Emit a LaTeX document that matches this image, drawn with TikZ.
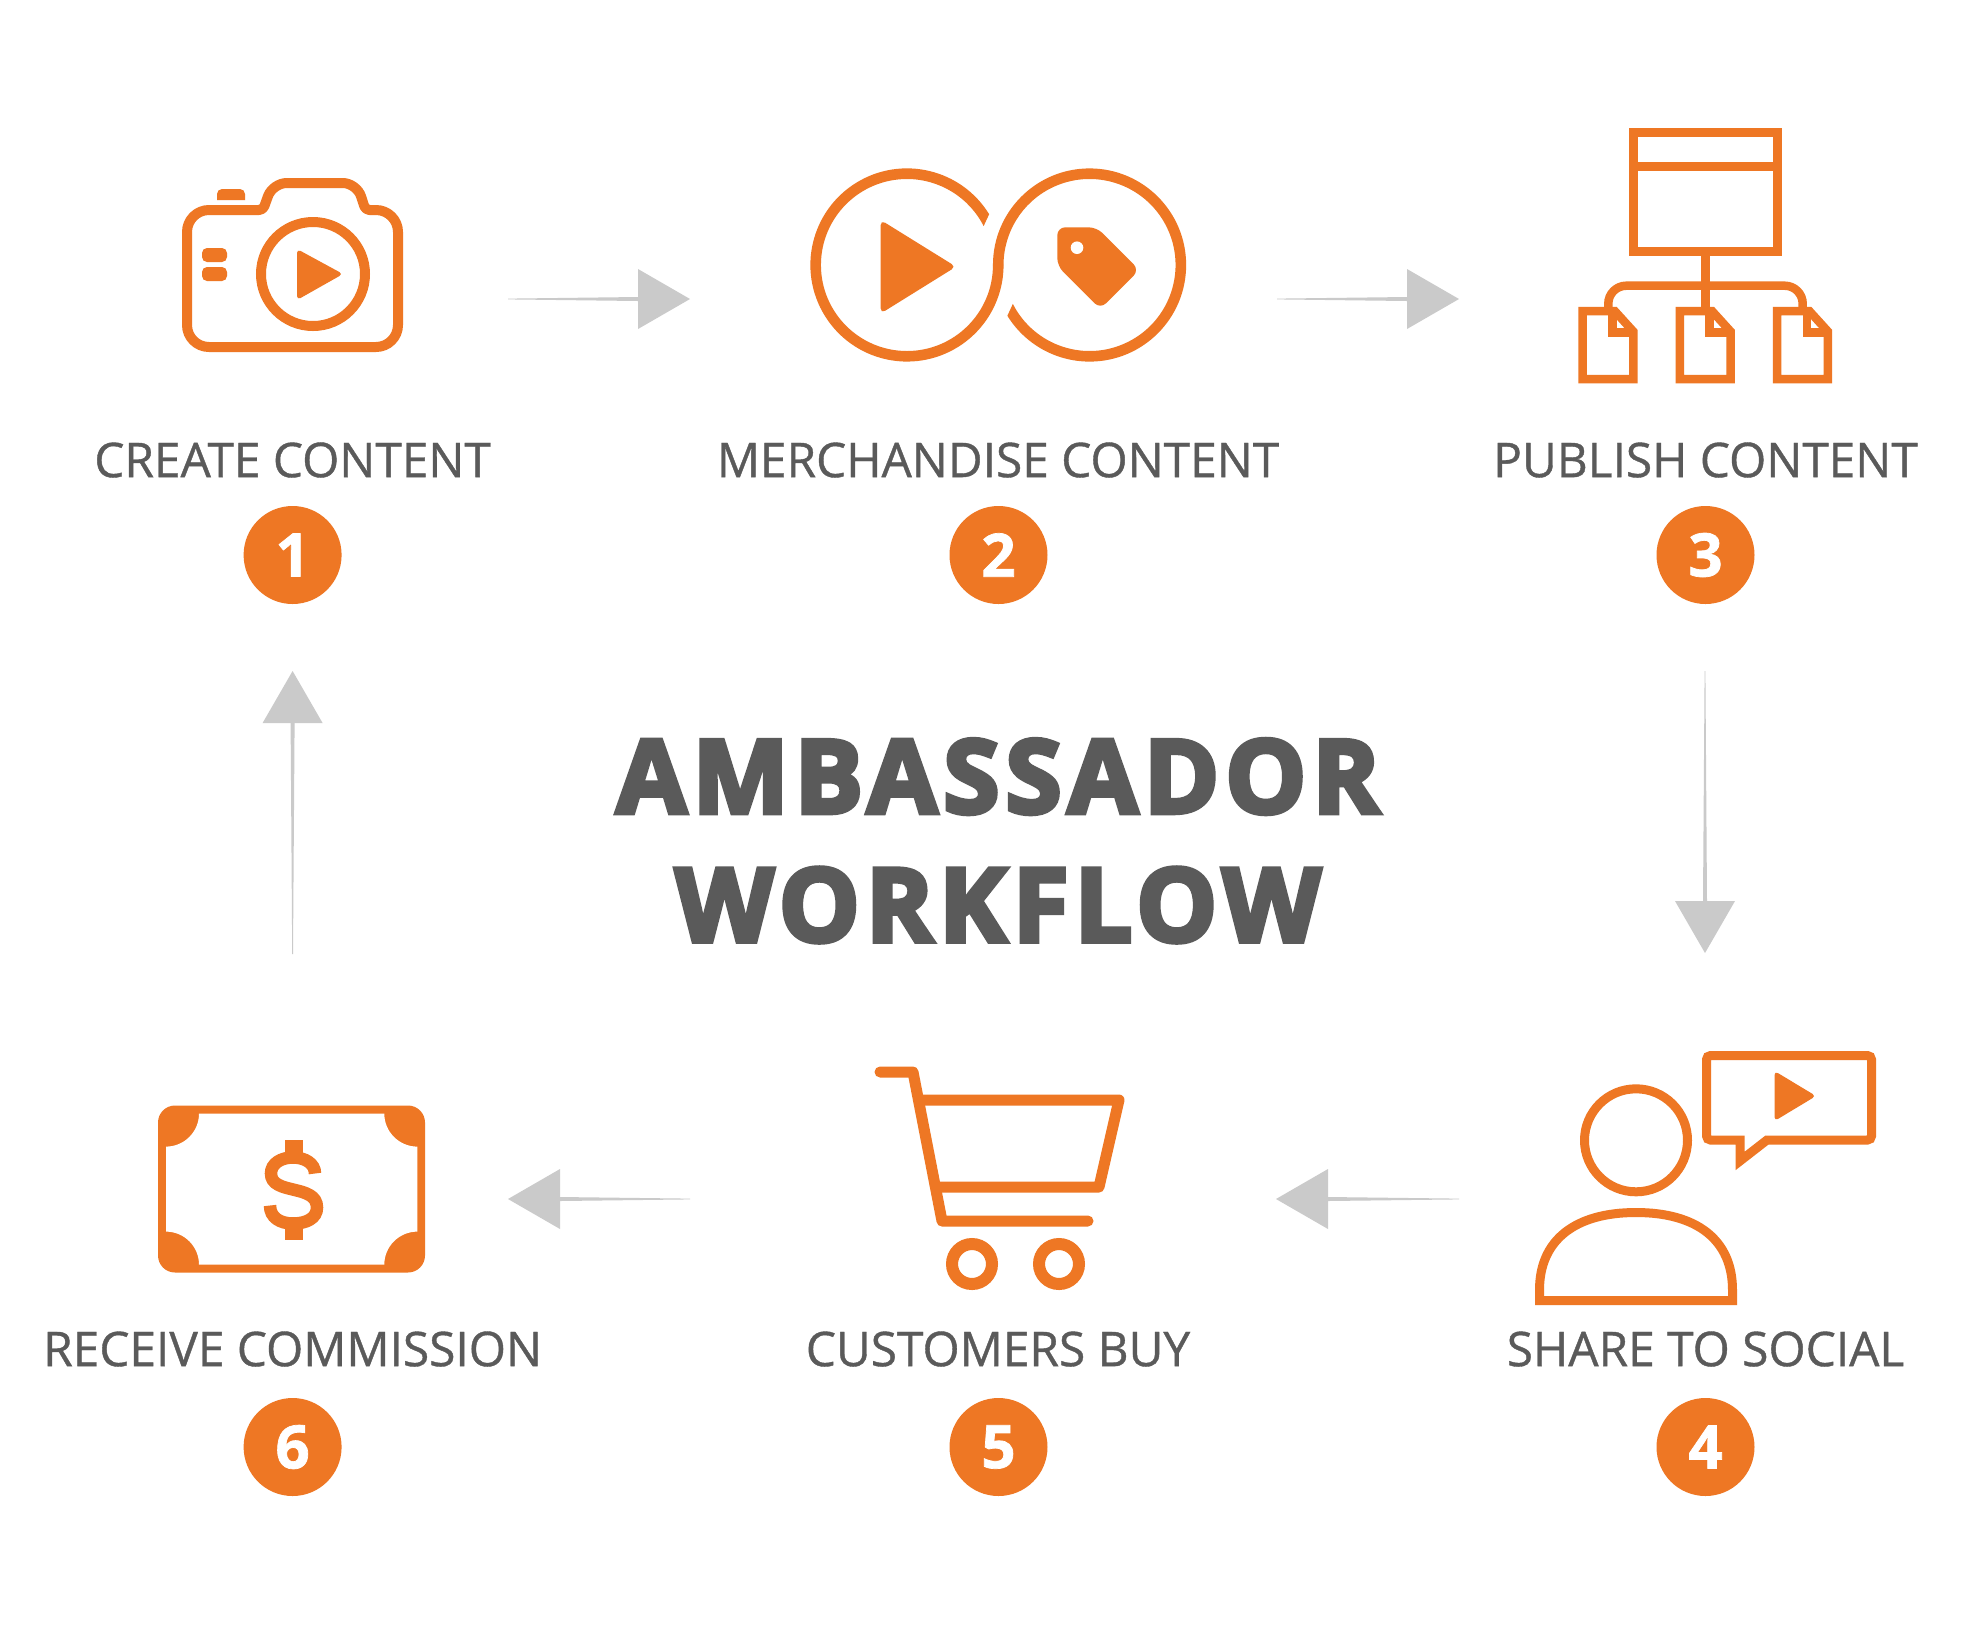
\documentclass[tikz,border=0pt]{standalone}
\usepackage{fontspec}
\setmainfont{Open Sans}
\newfontfamily\titlefont[BoldFeatures={FakeBold=4.5,LetterSpace=5.8}]{Open Sans}
\newfontfamily\labelfont[FakeBold=0.8]{Open Sans}
\newfontfamily\numfont[BoldFeatures={FakeBold=1.2}]{Open Sans}
\usetikzlibrary{calc}
\definecolor{brand}{HTML}{EE7724}
\definecolor{txt}{HTML}{5A5A5A}
\definecolor{arrowgrey}{HTML}{CACACA}
\tikzset{
  ico/.style={draw=brand,line width=#1*0.5pt,fill=none},
  ico/.default=10,
  solid/.style={fill=brand,draw=none},
  steplabel/.style={text=txt,font=\labelfont\fontsize{23.9pt}{28pt}\selectfont,anchor=center,inner sep=0pt},
  badge/.style={circle,fill=brand,text=white,minimum size=49pt,inner sep=0pt,font=\numfont\bfseries\fontsize{30pt}{36pt}\selectfont},
  headline/.style={text=txt,font=\titlefont\bfseries\fontsize{51pt}{60pt}\selectfont,anchor=center,inner sep=0pt},
  shaft/.style={fill=arrowgrey,draw=none},
}
% horizontal arrow: tail, base of head, tip
\newcommand{\harrow}[3]{%
  \fill[shaft] ($(#1)+(0,-0.4)$) -- ($(#2)+(0,-2)$) -- ($(#2)+(0,2)$) -- ($(#1)+(0,0.4)$) -- cycle;
  \fill[shaft] ($(#2)+(0,-30)$) -- (#3) -- ($(#2)+(0,30)$) -- cycle;}
\newcommand{\varrow}[3]{%
  \fill[shaft] ($(#1)+(-0.4,0)$) -- ($(#2)+(-2,0)$) -- ($(#2)+(2,0)$) -- ($(#1)+(0.4,0)$) -- cycle;
  \fill[shaft] ($(#2)+(-30,0)$) -- (#3) -- ($(#2)+(30,0)$) -- cycle;}
\begin{document}
\begin{tikzpicture}[x=0.5pt,y=-0.5pt]
\useasboundingbox (0,0) rectangle (1961,1624);
\fill[white] (0,0) rectangle (1961,1624);

% --- camera
\draw[ico=10,line join=round,rounded corners=11pt] (230,210) -- (187,210) -- (187,347) -- (398,347) -- (398,210)
  [rounded corners=2pt] -- (365.5,210) [rounded corners=7pt] -- (356.7,183) -- (272.7,183) [rounded corners=2pt] -- (263,210) -- cycle;
\draw[ico=10] (313,274) circle (52);
\fill[solid,rounded corners=2pt] (297,249) -- (343,274) -- (297,300) -- cycle;
\fill[solid,rounded corners=2.5pt] (202,248) rectangle (227,262);
\fill[solid,rounded corners=2.5pt] (202,267) rectangle (227,281);
\fill[solid] (217,200) [rounded corners=2.5pt] -- (217,189) -- (245,189) [sharp corners] -- (245,200) -- cycle;

% --- infinity
\fill[solid] (989.15,214.2) arc[start angle=-31.7,end angle=-360,radius=96.6]
  -- (992.95,265) arc[start angle=-360,end angle=-26.9,radius=86] -- cycle;
\fill[solid] (992.95,265) arc[start angle=180,end angle=508.3,radius=96.6]
  -- (1012.85,303.9) arc[start angle=513.1,end angle=180,radius=86] -- cycle;
\fill[solid,rounded corners=2.5pt] (880.7,220) -- (956,266.7) -- (880.7,313.5) -- cycle;
\fill[solid,rounded corners=4pt] (1057.3,227.3) -- (1096.7,227.3) -- (1139.3,270) -- (1100.3,309) -- (1057.3,266) -- cycle;
\fill[white] (1077,247.7) circle (6.3);

% --- site map
\draw[ico=8.5] (1633.5,132.5) rectangle (1777.5,251.5);
\draw[ico=8.5] (1633.5,166.7) -- (1777.5,166.7);
\draw[ico=8.5] (1705.3,251.5) -- (1705.3,311);
\draw[ico=8.5,rounded corners=9pt] (1608.3,311) -- (1608.3,285.7) -- (1802.7,285.7) -- (1802.7,311);
\foreach \dx in {0,97.3,194.6}{
  \begin{scope}[shift={(\dx,0)}]
  \draw[ico=8.5,miter limit=8] (1582.5,379) -- (1582.5,311) -- (1614.7,311) -- (1633.3,331.5) -- (1633.3,379) -- cycle;
  \draw[ico=8.5,miter limit=8] (1612.3,311) -- (1612.3,332.7) -- (1633.3,332.7);
  \end{scope}
}

% --- person with speech bubble
\draw[ico=9] (1636,1140.3) circle (51.5);
\draw[ico=9] (1539.5,1300.5) -- (1539.5,1290) .. controls (1539.5,1240) and (1575,1212.5) .. (1636,1212.5)
  .. controls (1697,1212.5) and (1732.5,1240) .. (1732.5,1290) -- (1732.5,1300.5) -- cycle;
\draw[ico=9,miter limit=8,rounded corners=2pt] (1706.5,1098) -- (1706.5,1055.5) -- (1871.5,1055.5) -- (1871.5,1140)
  [sharp corners] -- (1767,1140) -- (1740,1161) -- (1740,1140) [rounded corners=2pt] -- (1706.5,1140) -- cycle;
\fill[solid,rounded corners=2pt] (1774.5,1071) -- (1816,1096) -- (1774.5,1121) -- cycle;

% --- cart
\draw[ico=11,line cap=round,line join=round] (880,1072) -- (913,1072) -- (942,1221) -- (1088,1221);
\draw[ico=11,line join=round] (922,1100) -- (1119,1100) -- (1099,1187) -- (937,1187);
\draw[ico=12] (972,1264) circle (20);
\draw[ico=12] (1059,1264) circle (20);

% --- banknote
\fill[solid,rounded corners=8.5pt] (158,1105.5) rectangle (425,1272.5);
\fill[white] (199,1113.6) -- (384.3,1113.6) arc[start angle=180,end angle=90,radius=33]
  -- (417.3,1231.6) arc[start angle=270,end angle=180,radius=33]
  -- (199,1264.6) arc[start angle=0,end angle=-90,radius=33]
  -- (166,1146.6) arc[start angle=90,end angle=0,radius=33] -- cycle;
\fill[solid] (284.7,1139.5) rectangle (302.7,1153);
\fill[solid] (284.7,1226) rectangle (302.7,1239.5);
\draw[ico=12.5] (315,1173.5) .. controls (315,1163.5) and (305,1157.5) .. (293,1157.5)
  .. controls (281,1157.5) and (271,1163.5) .. (271,1173.5)
  .. controls (271,1195.5) and (317,1183.5) .. (317,1207.5)
  .. controls (317,1218.5) and (306,1223.5) .. (293,1223.5)
  .. controls (280,1223.5) and (270,1217.5) .. (270,1205.5);

% --- labels
\node[steplabel] (l1) at (292.6,460) {CREATE CONTENT};
\node[steplabel] (l2) at (998,460) {MERCHANDISE CONTENT};
\node[steplabel] (l3) at (1705.5,460) {PUBLISH CONTENT};
\node[steplabel] (l4) at (1705.5,1349) {SHARE TO SOCIAL};
\node[steplabel] (l5) at (998,1349) {CUSTOMERS BUY};
\node[steplabel] (l6) at (292.6,1349) {RECEIVE COMMISSION};

% --- badges
\node[badge] (n1) at (292.6,555) {1};
\node[badge] (n2) at (998.5,555) {2};
\node[badge] (n3) at (1705.5,555) {3};
\node[badge] (n4) at (1705.5,1447) {4};
\node[badge] (n5) at (998.5,1447) {5};
\node[badge] (n6) at (292.6,1447) {6};

% --- title
\node[headline] (t1) at (998,776.5) {AMBASSADOR};
\node[headline] (t2) at (998,905) {WORKFLOW};

% --- arrows
\coordinate (a1s) at (508,299); \coordinate (a1b) at (638,299); \coordinate (a1e) at (690,299);
\coordinate (a2s) at (1277,299); \coordinate (a2b) at (1407,299); \coordinate (a2e) at (1459,299);
\coordinate (a3s) at (1705,671); \coordinate (a3b) at (1705,901); \coordinate (a3e) at (1705,953);
\coordinate (a4s) at (1459,1199); \coordinate (a4b) at (1328,1199); \coordinate (a4e) at (1276,1199);
\coordinate (a5s) at (690,1199); \coordinate (a5b) at (560,1199); \coordinate (a5e) at (508,1199);
\coordinate (a6s) at (292.6,954); \coordinate (a6b) at (292.6,723); \coordinate (a6e) at (292.6,671);
\harrow{a1s}{a1b}{a1e}
\harrow{a2s}{a2b}{a2e}
\varrow{a3s}{a3b}{a3e}
\harrow{a4s}{a4b}{a4e}
\harrow{a5s}{a5b}{a5e}
\varrow{a6s}{a6b}{a6e}
\end{tikzpicture}
\end{document}
